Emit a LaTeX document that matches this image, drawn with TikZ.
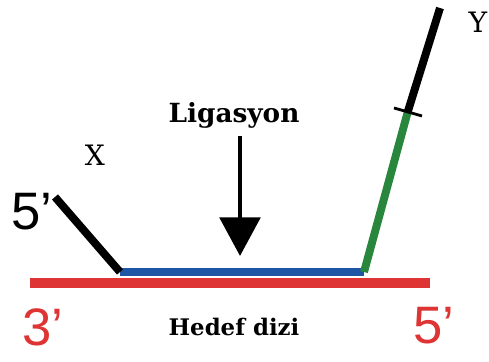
\documentclass[tikz,border=0pt]{standalone}
\usepackage{fontspec}
\setmainfont{DejaVu Serif}
\newfontfamily\arialfont{Liberation Sans}
\usepackage{tikz}
\usetikzlibrary{arrows.meta, calc}
\usepackage{xcolor}
\definecolor{hedefred}{RGB}{222,52,52}
\definecolor{probeblue}{RGB}{30,85,165}
\definecolor{probegreen}{RGB}{40,135,60}
\tikzset{
    strand/.style={line width=4.5pt},
    uclabel/.style={font=\arialfont\fontsize{30}{30}\selectfont},
    harf/.style={font=\fontsize{16}{16}\selectfont},
    baslik/.style={font=\bfseries\fontsize{13}{13}\selectfont}
}

\begin{document}
\begin{tikzpicture}[x=0.02cm, y=-0.02cm]
    \useasboundingbox (0,0) rectangle (489,361);
    % Hedef dizi
    \coordinate (r1) at (30,283);
    \coordinate (r2) at (430,283);
    \draw[hedefred, line width=5.6pt] (r1) -- (r2);
    % Problar
    \coordinate (b1) at (120,272);
    \coordinate (b2) at (364,272);
    \coordinate (x1) at (55,197);
    \coordinate (g2) at (408,111);
    \coordinate (y1) at (440,8);
    \draw[strand, probeblue] (b1) -- (b2);
    \draw[strand, black] (x1) -- (b1);
    \draw[strand, probegreen] (b2) -- (g2);
    \draw[strand, black] (g2) -- (y1);
    \draw[line width=1.6pt, black] ($(g2)+(-14,-3)$) -- ($(g2)+(14,5)$);
    % Etiketler
    \node[uclabel] (p5) at (32,212) {5’};
    \node[uclabel, hedefred] (t3) at (43,327) {3’};
    \node[uclabel, hedefred] (t5) at (434,326) {5’};
    \node[harf] (lx) at (95,155) {X};
    \node[harf] (ly) at (478,22) {Y};
    \node[baslik, font=\bfseries\fontsize{15}{15}\selectfont] (lig) at (234,115) {Ligasyon};
    \node[baslik] (hed) at (234,327) {Hedef dizi};
    % Ok
    \coordinate (okbas) at (240,136);
    \coordinate (ok) at (240,256);
    \draw[line width=2.6pt, -{Triangle[length=22pt, width=23pt]}] (okbas) -- (ok);
\end{tikzpicture}
\end{document}
